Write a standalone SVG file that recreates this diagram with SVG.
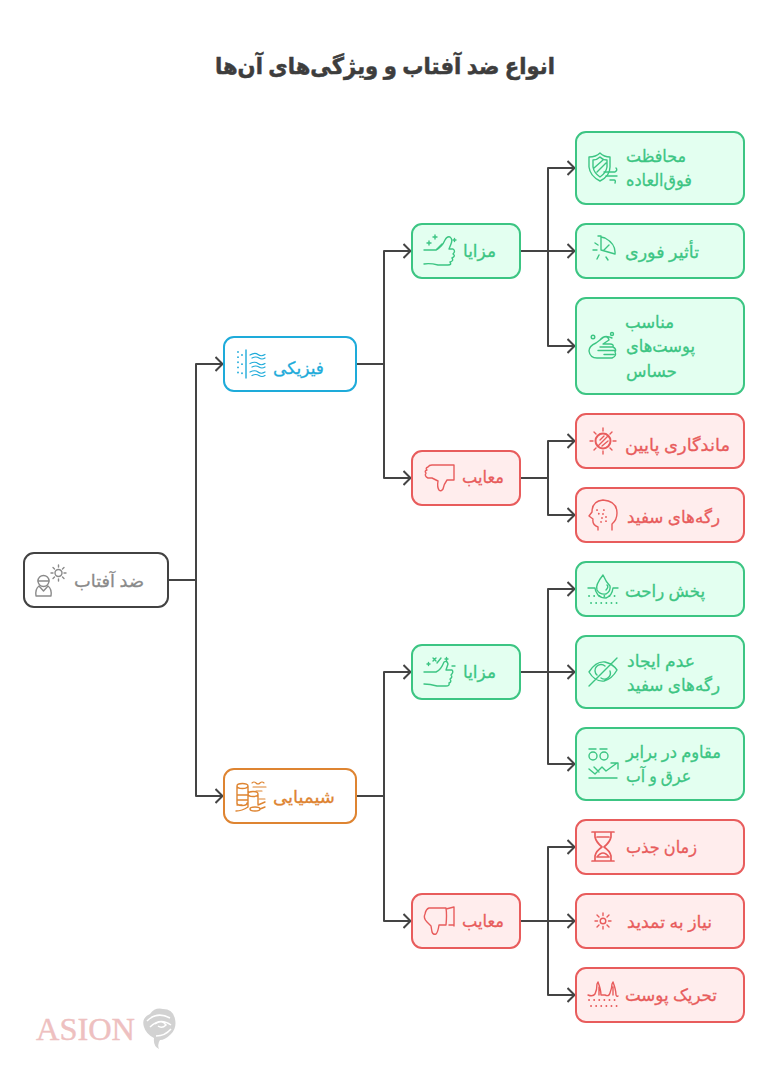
<svg xmlns="http://www.w3.org/2000/svg" width="768" height="1070" viewBox="0 0 768 1070">
<style>
text{font-family:"Noto Sans","DejaVu Sans",sans-serif;font-size:17px;direction:ltr;text-anchor:start;stroke-width:.3}
.box{stroke-width:2}
.i{fill:none;stroke-width:1.400;stroke-linecap:round;stroke-linejoin:round}
.d{stroke-dasharray:.1 5;stroke-width:1.800}
.g rect{fill:#e3fff0;stroke:#3cc583}.g text{fill:#3cc583;stroke:#3cc583}.g .i{stroke:#3cc583}
.r rect{fill:#ffeded;stroke:#e85c5c}.r text{fill:#e85c5c;stroke:#e85c5c}.r .i{stroke:#e85c5c}
.b rect{fill:#fff;stroke:#1eabda}.b text{fill:#1eabda;stroke:#1eabda}.b .i{stroke:#1eabda}
.o rect{fill:#fff;stroke:#de8431}.o text{fill:#de8431;stroke:#de8431}.o .i{stroke:#de8431}
.k rect{fill:#fff;stroke:#424242}.k text{fill:#8a8a8a;stroke:#8a8a8a}.k .i{stroke:#8a8a8a}
.c path{fill:none;stroke:#444;stroke-width:2;stroke-linejoin:round}
</style>
<defs>
<marker id="a" markerUnits="userSpaceOnUse" markerWidth="10" markerHeight="16" viewBox="0 0 10 16" refX="8.500" refY="8" orient="auto"><path d="M1 1L8 8L1 15" fill="none" stroke="#444" stroke-width="2"/></marker>
</defs>
<rect width="768" height="1070" fill="#fff"/>
<text id="title" x="215" y="74" textLength="340" lengthAdjust="spacingAndGlyphs" style="font-size:23px;font-weight:700;fill:#3d3d3d;stroke:#3d3d3d;stroke-width:.5">انواع ضد آفتاب و ویژگی‌های آن‌ها</text>

<g id="connectors" class="c">
<path d="M168 580H196V364H223" marker-end="url(#a)"/>
<path d="M196 580V796H223" marker-end="url(#a)"/>
<path d="M356 364H384V251H411" marker-end="url(#a)"/>
<path d="M384 364V478H411" marker-end="url(#a)"/>
<path d="M520 251H548V168H575" marker-end="url(#a)"/>
<path d="M548 251H575" marker-end="url(#a)"/>
<path d="M548 251V346H575" marker-end="url(#a)"/>
<path d="M520 478H548V441H575" marker-end="url(#a)"/>
<path d="M548 478V515H575" marker-end="url(#a)"/>
<path d="M356 796H384V672H411" marker-end="url(#a)"/>
<path d="M384 796V921H411" marker-end="url(#a)"/>
<path d="M520 672H548V589H575" marker-end="url(#a)"/>
<path d="M548 672H575" marker-end="url(#a)"/>
<path d="M548 672V764H575" marker-end="url(#a)"/>
<path d="M520 921H548V847H575" marker-end="url(#a)"/>
<path d="M548 921H575" marker-end="url(#a)"/>
<path d="M548 921V995H575" marker-end="url(#a)"/>
</g>

<g id="root" class="k"><rect class="box" x="24" y="553" width="144" height="54" rx="10"/>
<circle class="i" cx="43.500" cy="581" r="5.500"/>
<path class="i" d="M38 581H49M36 596Q35 589 39 586L43.500 591L48 586Q52 589 51 596Z"/>
<path class="i" d="M62 573a3.500 3.500 0 1 1-7 0a3.500 3.500 0 0 1 7 0ZM58.500 565V567M58.500 579V581M51 573H53M64 573H66M53 567.500L54.500 569M62.500 577L64 578.500M53 578.500L54.500 577M62.500 569L64 567.500"/>
<text x="74" y="587" textLength="70" lengthAdjust="spacingAndGlyphs">ضد آفتاب</text></g>

<g id="fiziki" class="b"><rect class="box" x="224" y="337" width="132" height="54" rx="10"/>
<path class="i" d="M246 350V378"/><path class="i d" d="M238 352V377"/><path class="i d" d="M242 355V375" style="stroke-dasharray:.1 9"/>
<path class="i" style="stroke-width:1.200" d="M250 355Q255 352 258 354.500T265 354.500M252 358Q256 356 259 358T265 358M250 363.500Q255 361 258 363.500T265 363.500M252 367Q256 365 259 367T265 367M250 372Q255 369.500 258 372T265 372M252 375.500Q256 373.500 259 375.500T265 375.500"/>
<text x="273" y="374" textLength="51" lengthAdjust="spacingAndGlyphs">فیزیکی</text></g>

<g id="shimiyayi" class="o"><rect class="box" x="224" y="769" width="132" height="54" rx="10"/>
<path class="i" d="M237 786V804M248 786V793M237 786a5.500 2.500 0 0 1 11 0a5.500 2.500 0 0 1-11 0ZM248 794a5 2.500 0 0 1 10 0a5 2.500 0 0 1-10 0ZM248 794V807M258 794V804M237 800H247M237 795H247M237 803a5 2.500 0 0 0 10 0M237 805H242M236 811Q242 811 248 807M250 809a5 2 0 0 0 10 0a5 2 0 0 0-10 0ZM258 805L265 802M260 809L265 807"/>
<path class="i" style="stroke-width:1.100" d="M252 783Q254 781 256 783T260 783T264 783M253 787H266M256 791H262M259 799H265"/>
<text x="273" y="803" textLength="62" lengthAdjust="spacingAndGlyphs">شیمیایی</text></g>

<g id="mazaya1" class="g"><rect class="box" x="412" y="224" width="108" height="54" rx="10"/>
<path class="i" d="M424 250H436Q442 247 445 240Q447 236 450 237Q453 239 451 244L449 249H453Q456 251 453 254Q456 256 452 258Q454 261 450 262Q452 265 448 265H438Q430 263 424 264"/>
<path class="i" d="M427 243H431M429 241V245M433 237H437M435 235V239M442 244L437 249M453 240H456M454.500 238.500V241.500"/>
<text x="463" y="257" textLength="33" lengthAdjust="spacingAndGlyphs">مزایا</text></g>

<g id="maayeb1" class="r"><rect class="box" x="412" y="451" width="108" height="54" rx="10"/>
<path class="i" d="M432 465H454V480H447Q444 484 443 489Q441 492 439 490Q437 487 438 481L432 478H428Q424 476 426 473Q424 471 427 470Q425 468 428 467Q429 465 432 465Z"/>
<text x="462" y="483" textLength="42" lengthAdjust="spacingAndGlyphs">معایب</text></g>

<g id="mazaya2" class="g"><rect class="box" x="412" y="645" width="108" height="54" rx="10"/>
<path class="i" d="M424 672H436Q441 670 444 662Q447 660 448 664L446 670H452Q454 672 451 675Q453 677 450 679Q452 682 449 683Q450 686 446 686H437Q430 684 424 684"/>
<path class="i" d="M427 664H430M428.500 662.500V665.500M433 658L436 661M436 658L433 661M437 663L441 658M445 659H448M446.500 657.500V660.500M452 666H455"/>
<text x="463" y="678" textLength="33" lengthAdjust="spacingAndGlyphs">مزایا</text></g>

<g id="maayeb2" class="r"><rect class="box" x="412" y="894" width="108" height="54" rx="10"/>
<path class="i" d="M429 908H446Q447 915 446 925H439Q438 932 436 934Q433 935 432 932L431 926L427 922Q423 918 425 914Q426 909 429 908ZM446 909L454 907V926M449 925H454"/>
<text x="462" y="927" textLength="42" lengthAdjust="spacingAndGlyphs">معایب</text></g>

<g id="mahafezat" class="g"><rect class="box" x="576" y="132" width="168" height="72" rx="10"/>
<path class="i" d="M589 157Q596 157 600 153Q604 157 610 157V167Q610 176 600 181Q590 176 589 167ZM593 160Q597 160 600 157Q603 160 607 160V167Q606 173 600 177Q594 173 593 167ZM594 168L603 160M597 172L606 163"/>
<path class="i" d="M604 172H615Q618 170 616 168M606 176H617M610 180H614Q616 180 615 183"/>
<text x="626" y="162" textLength="60" lengthAdjust="spacingAndGlyphs">محافظت</text>
<text x="626" y="186" textLength="66" lengthAdjust="spacingAndGlyphs">فوق‌العاده</text></g>

<g id="tasir" class="g"><rect class="box" x="576" y="224" width="168" height="54" rx="10"/>
<path class="i" d="M601 236V250L615 254Q616 244 605 238L601 237ZM598 236H601M604 250L609 245M593 250H597M595 243L598 245M599 255L597 259M606 257L608 260"/>
<text x="625" y="258" textLength="74" lengthAdjust="spacingAndGlyphs">تأثیر فوری</text></g>

<g id="monaseb" class="g"><rect class="box" x="576" y="298" width="168" height="96" rx="10"/>
<path class="i" d="M596 343Q589 346 589 351Q590 358 597 358H612Q617 356 615 352Q617 349 613 347Q614 344 610 344H603L609 340Q608 336 604 337L596 343ZM600 347H613M598 350.500H615M604 354.500H614M600 340Q604 334 612 338"/>
<circle class="i" cx="593" cy="337" r="1.800"/><circle class="i" cx="612" cy="334" r="1.500"/>
<text x="625" y="328" textLength="49" lengthAdjust="spacingAndGlyphs">مناسب</text>
<text x="626" y="352" textLength="69" lengthAdjust="spacingAndGlyphs">پوست‌های</text>
<text x="626" y="377" textLength="51" lengthAdjust="spacingAndGlyphs">حساس</text></g>

<g id="mandegari" class="r"><rect class="box" x="576" y="414" width="168" height="54" rx="10"/>
<circle class="i" cx="603" cy="441" r="7.500" style="stroke-width:2"/>
<path class="i" d="M598 446L608 436M600 440L604 436M602 446L608 441M603 428V431M603 451V454M590 441H593M613 441H616M594 432L596 434M610 448L612 450M594 450L596 448M610 434L612 432"/>
<text x="625" y="451" textLength="105" lengthAdjust="spacingAndGlyphs">ماندگاری پایین</text></g>

<g id="ragehaye1" class="r"><rect class="box" x="576" y="488" width="168" height="54" rx="10"/>
<path class="i" d="M598 530V527Q592 525 593 519L589 516L592 512Q592 501 603 500Q617 501 617 513Q617 520 612 524V530"/>
<path class="i" stroke-dasharray="0.100 4" style="stroke-width:1.800" d="M597 510L600 516M604 510L601 522M606 517L606 523"/>
<text x="627" y="523" textLength="93" lengthAdjust="spacingAndGlyphs">رگه‌های سفید</text></g>

<g id="pakhsh" class="g"><rect class="box" x="576" y="562" width="168" height="54" rx="10"/>
<path class="i" d="M603 575Q595 585 597 590Q600 595 606 594Q611 591 610 586Q606 582 603 575ZM606 590Q609 587 607 585M588 588H595Q595 591 598 595Q601 598 606 598Q612 596 613 588H618"/>
<path class="i d" d="M589 596H617M591 603H617"/>
<text x="625" y="597" textLength="80" lengthAdjust="spacingAndGlyphs">پخش راحت</text></g>

<g id="adam" class="g"><rect class="box" x="576" y="636" width="168" height="72" rx="10"/>
<path class="i" d="M589 672Q596 661 605 662Q613 664 617 670Q612 679 604 681Q595 682 589 672ZM597 675a6 6 0 0 1 8-9M610 671a6 6 0 0 1-9 7M589 686L617 658"/>
<text x="627" y="667" textLength="68" lengthAdjust="spacingAndGlyphs">عدم ایجاد</text>
<text x="627" y="691" textLength="93" lengthAdjust="spacingAndGlyphs">رگه‌های سفید</text></g>

<g id="moghavem" class="g"><rect class="box" x="576" y="728" width="168" height="72" rx="10"/>
<circle class="i" cx="593" cy="756" r="4"/><circle class="i" cx="604" cy="756" r="4"/>
<path class="i" d="M589 749H596M600 749H607M589 769L595 774L602 767L606 771L617 763M611 763H618V769M594 767L599 772M589 778H617"/>
<text x="626" y="758" textLength="95" lengthAdjust="spacingAndGlyphs">مقاوم در برابر</text>
<text x="626" y="782" textLength="65" lengthAdjust="spacingAndGlyphs">عرق و آب</text></g>

<g id="zaman" class="r"><rect class="box" x="576" y="820" width="168" height="54" rx="10"/>
<path class="i" style="stroke-width:1.700" d="M592 832H614M592 861H614M595 832V837Q596 842 602 847Q596 851 595 856V861M611 832V837Q610 842 604 847Q610 851 611 856V861M597 857Q600 853 603 853Q606 853 609 857ZM597 837H609"/>
<text x="626" y="853" textLength="71" lengthAdjust="spacingAndGlyphs">زمان جذب</text></g>

<g id="niaz" class="r"><rect class="box" x="576" y="894" width="168" height="54" rx="10"/>
<circle class="i" cx="603" cy="921" r="2.800"/>
<path class="i" d="M603 913V915.500M603 926.500V929M595 921H597.500M608.500 921H611M597 915L599 917M607 925L609 927M597 927L599 925M607 917L609 915"/>
<text x="627" y="928" textLength="85" lengthAdjust="spacingAndGlyphs">نیاز به تمدید</text></g>

<g id="tahrik" class="r"><rect class="box" x="576" y="968" width="168" height="54" rx="10"/>
<path class="i" d="M588 995Q593 997 595 994Q597 990 597 984L598 982Q601 990 601 995M605 995Q609 997 610 993Q612 988 612 984L613 982Q616 990 616 995Q617 997 618 996M601 995H605M599 987V995M613 987V995"/>
<path class="i d" d="M589 1000H618M591 1006H618"/>
<text x="625" y="1001" textLength="92" lengthAdjust="spacingAndGlyphs">تحریک پوست</text></g>

<g id="watermark">
<text x="36" y="1040" textLength="99" lengthAdjust="spacingAndGlyphs" style="font-family:'Liberation Serif',serif;font-size:32px;font-weight:400;fill:#eec0c0;stroke:#eec0c0;stroke-width:.4">ASION</text>
<path d="M150 1014Q155 1007 163 1009Q173 1009 175 1019Q177 1028 171 1034Q165 1040 160 1040Q157 1044 159 1049Q153 1046 154 1038Q146 1034 144 1027Q141 1018 150 1014Z" fill="#d2d2d2"/>
<path d="M147 1021Q157 1011 170 1018M150 1027Q160 1017 171 1025M155 1024Q162 1019 166 1025Q162 1029 158 1026M156 1036Q165 1036 171 1029" fill="none" stroke="#fff" stroke-width="1.500"/>
</g>
</svg>
